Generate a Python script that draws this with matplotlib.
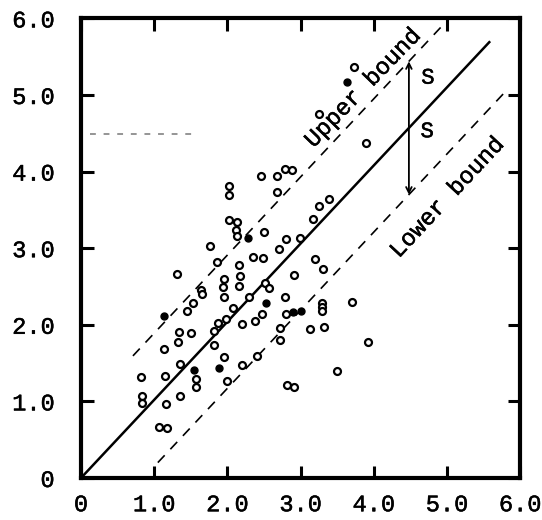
import numpy as np
import matplotlib
matplotlib.use( "Agg" )
import matplotlib.pyplot as plt
import matplotlib.patheffects as pe


# ========================================================= #
# ===  data                                             === #
# ========================================================= #

# --- open circles --- #
open_x = [ 2.02, 2.02, 2.46, 2.68, 2.79, 2.88, 2.68, 2.02, 2.13, 2.12,
           2.13, 2.50, 2.80, 2.99, 1.76, 2.70, 1.86, 2.16, 2.35, 2.49,
           1.31, 1.95, 2.17, 1.94, 2.16, 1.64, 1.65, 1.53, 1.45, 1.95,
           2.30, 2.51, 2.57, 2.91, 2.79, 2.08, 1.98, 1.87, 1.82, 2.20,
           2.38, 2.47, 2.80, 1.34, 1.50, 1.33, 1.82, 2.72, 2.72, 1.95,
           2.40, 1.35, 2.20, 1.13, 0.82, 1.15, 0.83, 0.83, 1.35, 1.16,
           1.07, 1.17, 1.57, 1.57, 1.99, 3.73, 3.25, 3.89, 3.25, 3.39,
           3.17, 3.20, 3.31, 3.29, 3.29, 3.29, 3.70, 3.13, 3.32, 3.92,
           3.50, 2.81, 2.91 ]
open_y = [ 3.81, 3.69, 3.94, 3.94, 4.03, 4.02, 3.73, 3.37, 3.34, 3.24,
           3.16, 3.21, 3.12, 3.13, 3.03, 2.99, 2.82, 2.78, 2.89, 2.87,
           2.66, 2.60, 2.64, 2.49, 2.51, 2.45, 2.40, 2.28, 2.18, 2.36,
           2.36, 2.55, 2.48, 2.65, 2.36, 2.22, 2.08, 2.02, 1.92, 2.01,
           2.05, 2.14, 2.14, 1.91, 1.89, 1.78, 1.74, 1.96, 1.80, 1.58,
           1.59, 1.49, 1.48, 1.68, 1.32, 1.33, 1.07, 0.98, 1.07, 0.97,
           0.67, 0.65, 1.29, 1.19, 1.27, 5.37, 4.75, 4.37, 3.55, 3.64,
           3.38, 2.86, 2.73, 2.28, 2.23, 2.18, 2.30, 1.95, 1.97, 1.78,
           1.40, 1.21, 1.19 ]

# --- filled circles --- #
fill_x = [ 2.28, 2.53, 2.90, 3.01, 1.13, 1.54, 1.89, 3.63 ]
fill_y = [ 3.13, 2.28, 2.17, 2.18, 2.11, 1.41, 1.44, 5.17 ]

# --- regression line and bounds ( y = a*x, +/- S ) --- #
fit_slope    = 1.02
fit_xrange   = [ 0.0, 5.59 ]
spread_S     = 0.87
upper_xrange = [ 0.71, 4.98 ]
lower_xrange = [ 1.05, 5.79 ]
arrow_x      = 4.48

ticks       = [ 0.0, 1.0, 2.0, 3.0, 4.0, 5.0, 6.0 ]
tick_labels = [ "0", "1.0", "2.0", "3.0", "4.0", "5.0", "6.0" ]

font  = "Liberation Mono"
heavy = [ pe.withStroke( linewidth=0.35, foreground="k" ) ]


# ========================================================= #
# ===  figure / axes                                    === #
# ========================================================= #
fig = plt.figure( figsize=(5.42, 5.20), dpi=100 )
ax  = fig.add_axes( [ 0.1494, 0.0808, 0.8103, 0.8838 ] )

ax.set_xlim( 0.0, 6.0 )
ax.set_ylim( 0.0, 6.0 )

for side in [ "left", "right", "top", "bottom" ]:
    ax.spines[side].set_linewidth( 3.0 )

ax.set_xticks( ticks )
ax.set_yticks( ticks )
ax.set_xticklabels( tick_labels, family=font, fontsize=17 )
ax.set_yticklabels( tick_labels, family=font, fontsize=17 )
for lab in ax.get_xticklabels() + ax.get_yticklabels():
    lab.set_path_effects( heavy )
ax.tick_params( axis="both", direction="in", length=9, width=2.2,
                top=True, right=True )
ax.tick_params( axis="x", pad=11 )
ax.tick_params( axis="y", pad=19 )


# ------------------------------------------------- #
# --- lines                                     --- #
# ------------------------------------------------- #
xs = np.array( fit_xrange )
ax.plot( xs, fit_slope*xs, color="k", lw=1.8, solid_capstyle="butt" )

xu = np.array( upper_xrange )
ax.plot( xu, fit_slope*xu + spread_S, color="k", lw=1.2, ls=(0, (6, 5)) )

xl = np.array( lower_xrange )
ax.plot( xl, fit_slope*xl - spread_S, color="k", lw=1.2, ls=(0, (6, 5)) )

# faded guide line left on the sheet
ax.plot( [ 0.13, 1.57 ], [ 4.49, 4.49 ], color="0.3", lw=1.4,
         ls=(0, (3, 4)), alpha=0.6 )


# ------------------------------------------------- #
# --- data points                               --- #
# ------------------------------------------------- #
ax.plot( open_x, open_y, ls="none", marker="o", ms=5.0, mew=1.6,
         mfc="white", mec="k" )
ax.plot( fill_x, fill_y, ls="none", marker="o", ms=5.0, mew=1.0,
         mfc="k", mec="k" )


# ------------------------------------------------- #
# --- S arrows                                  --- #
# ------------------------------------------------- #
y_mid = fit_slope * arrow_x
arrow_kw = dict( arrowstyle="->", lw=1.3, color="k", mutation_scale=10,
                 shrinkA=0, shrinkB=0 )
ax.annotate( "", xy=( arrow_x, y_mid + spread_S ), xytext=( arrow_x, y_mid ),
             arrowprops=arrow_kw )
ax.annotate( "", xy=( arrow_x, y_mid - spread_S ), xytext=( arrow_x, y_mid ),
             arrowprops=arrow_kw )
ax.text( 4.74, 5.22, "S", family=font, fontsize=16, ha="center", va="center",
         path_effects=heavy )
ax.text( 4.73, 4.52, "S", family=font, fontsize=16, ha="center", va="center",
         path_effects=heavy )


# ------------------------------------------------- #
# --- bound labels                              --- #
# ------------------------------------------------- #
ax.text( 3.85, 5.09, "Upper bound", family=font, fontsize=17, rotation=46,
         rotation_mode="anchor", ha="center", va="center", path_effects=heavy )
ax.text( 5.00, 3.66, "Lower bound", family=font, fontsize=17, rotation=47,
         rotation_mode="anchor", ha="center", va="center", path_effects=heavy )

fig.savefig( "out.png", dpi=100 )
